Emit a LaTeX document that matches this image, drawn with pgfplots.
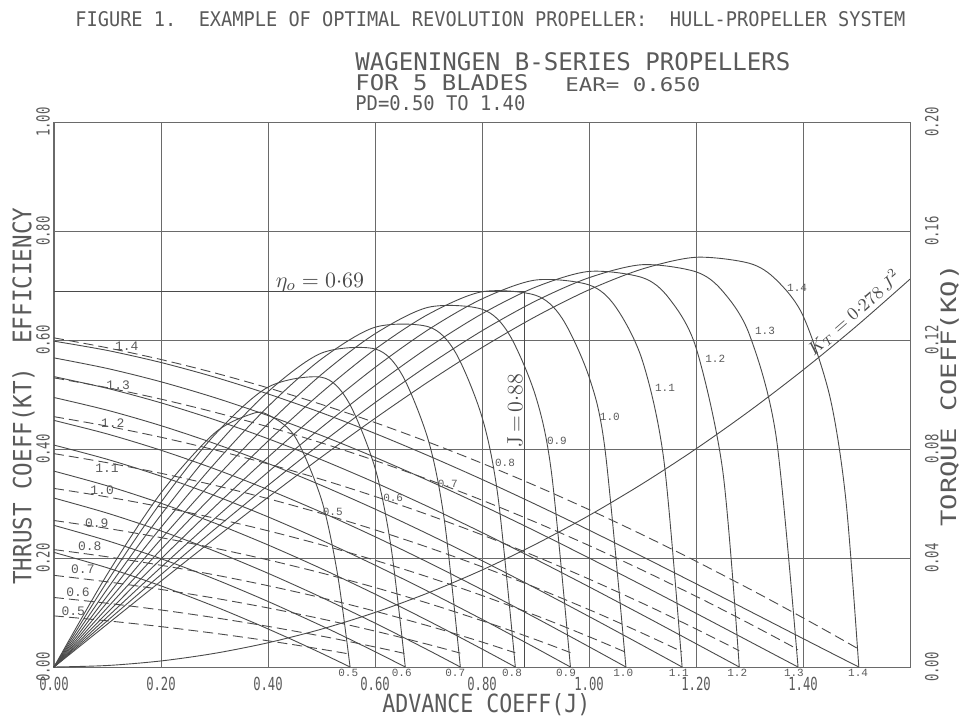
\documentclass[border=0pt]{standalone}
\usepackage{fontspec}
\usepackage{graphicx}
\usepackage{pgfplots}
\usepackage{pgfplotstable}
\pgfplotsset{compat=1.18}
\newfontfamily\ttl[FakeStretch=0.88]{DejaVu Sans Mono}
\newfontfamily\tck[FakeStretch=0.68]{DejaVu Sans Mono}
\newfontfamily\sml{Liberation Mono}
\definecolor{ink}{HTML}{4A4A4A}
\definecolor{gridc}{HTML}{6A6A6A}
\definecolor{txt}{HTML}{5A5A5A}

\pgfplotstableread{
J KT KQ eta
0 0.2103 0.01876 0
0.1 0.1819 0.01694 0.1709
0.2 0.1488 0.01482 0.3195
0.3 0.1113 0.01238 0.4291
0.37 0.0827 0.01049 0.4646
0.4 0.0699 0.00962 0.4628
0.45 0.0480 0.00812 0.4233
0.5 0.0252 0.00652 0.3071
0.53 0.0111 0.00553 0.1700
0.5534 0 0.00474 0
}\pdfive
\pgfplotstableread{
J KT KQ eta
0 0.2599 0.02551 0
0.1 0.2317 0.02339 0.1577
0.2 0.1987 0.02093 0.3023
0.3 0.1615 0.01811 0.4257
0.4 0.1203 0.01492 0.5135
0.5 0.0757 0.01134 0.5316
0.55 0.0523 0.00940 0.4871
0.6 0.0281 0.00735 0.3654
0.63 0.0133 0.00608 0.2200
0.6566 0 0.00492 0
}\pdsix
\pgfplotstableread{
J KT KQ eta
0 0.3100 0.03364 0
0.1 0.2822 0.03125 0.1437
0.2 0.2497 0.02846 0.2792
0.3 0.2128 0.02528 0.4019
0.4 0.1720 0.02168 0.5051
0.5 0.1278 0.01766 0.5760
0.6 0.0806 0.01318 0.5836
0.65 0.0559 0.01077 0.5372
0.7 0.0307 0.00825 0.4151
0.73 0.0153 0.00668 0.2669
0.7595 0 0.00509 0
}\pdseven
\pgfplotstableread{
J KT KQ eta
0 0.3594 0.04309 0
0.1 0.3323 0.04043 0.1308
0.2 0.3004 0.03734 0.2561
0.3 0.2642 0.03382 0.3730
0.4 0.2240 0.02984 0.4779
0.5 0.1804 0.02541 0.5652
0.6 0.1338 0.02049 0.6234
0.7 0.0845 0.01508 0.6242
0.75 0.0590 0.01218 0.5779
0.8 0.0330 0.00916 0.4586
0.83 0.0172 0.00728 0.3117
0.8623 0 0.00521 0
}\pdeight
\pgfplotstableread{
J KT KQ eta
0 0.4072 0.05376 0
0.1 0.3810 0.05085 0.1193
0.2 0.3501 0.04747 0.2347
0.3 0.3147 0.04363 0.3444
0.4 0.2755 0.03931 0.4461
0.5 0.2327 0.03450 0.5368
0.6 0.1869 0.02918 0.6114
0.7 0.1383 0.02335 0.6601
0.8 0.0876 0.01699 0.6565
0.85 0.0615 0.01361 0.6117
0.9 0.0351 0.01009 0.4978
0.93 0.0190 0.00791 0.3557
0.9653 0 0.00529 0
}\pdnine
\pgfplotstableread{
J KT KQ eta
0 0.4525 0.06554 0
0.1 0.4275 0.06239 0.1091
0.2 0.3977 0.05876 0.2155
0.3 0.3636 0.05463 0.3178
0.4 0.3255 0.04999 0.4145
0.5 0.2839 0.04484 0.5037
0.6 0.2391 0.03917 0.5829
0.7 0.1916 0.03297 0.6474
0.8 0.1419 0.02624 0.6885
0.9 0.0903 0.01896 0.6821
0.95 0.0639 0.01511 0.6394
1.0 0.0372 0.01112 0.5325
1.03 0.0211 0.00866 0.3988
1.069 0 0.00539 0
}\pdten
\pgfplotstableread{
J KT KQ eta
0 0.4945 0.07829 0
0.1 0.4711 0.07495 0.1000
0.2 0.4428 0.07108 0.1983
0.3 0.4101 0.06669 0.2936
0.4 0.3735 0.06178 0.3849
0.5 0.3332 0.05633 0.4708
0.6 0.2898 0.05035 0.5496
0.7 0.2436 0.04384 0.6192
0.8 0.1951 0.03678 0.6754
0.9 0.1447 0.02919 0.7100
1.0 0.0927 0.02106 0.7011
1.05 0.0663 0.01678 0.6605
1.1 0.0397 0.01237 0.5617
1.14 0.0183 0.00875 0.3790
1.174 0 0.00560 0
}\pdeleven
\pgfplotstableread{
J KT KQ eta
0 0.5328 0.09187 0
0.1 0.5112 0.08837 0.0921
0.2 0.4847 0.08431 0.1830
0.3 0.4538 0.07970 0.2719
0.4 0.4189 0.07454 0.3577
0.5 0.3803 0.06884 0.4396
0.6 0.3385 0.06260 0.5164
0.7 0.2939 0.05581 0.5866
0.8 0.2468 0.04850 0.6481
0.9 0.1978 0.04065 0.6970
1.0 0.1472 0.03228 0.7258
1.1 0.0954 0.02338 0.7144
1.15 0.0692 0.01873 0.6760
1.2 0.0428 0.01396 0.5860
1.25 0.0164 0.00906 0.3599
1.2809 0 0.00595 0
}\pdtwelve
\pgfplotstableread{
J KT KQ eta
0 0.5672 0.10611 0
0.1 0.5477 0.10250 0.0851
0.2 0.5233 0.09830 0.1695
0.3 0.4944 0.09351 0.2525
0.4 0.4614 0.08815 0.3332
0.5 0.4248 0.08224 0.4110
0.6 0.3848 0.07577 0.4850
0.7 0.3419 0.06876 0.5540
0.8 0.2966 0.06122 0.6169
0.9 0.2492 0.05316 0.6714
1.0 0.2001 0.04459 0.7143
1.1 0.1498 0.03552 0.7382
1.2 0.0986 0.02596 0.7251
1.25 0.0728 0.02100 0.6894
1.3 0.0469 0.01592 0.6096
1.35 0.0210 0.01072 0.4213
1.3907 0 0.00641 0
}\pdthirteen
\pgfplotstableread{
J KT KQ eta
0 0.5979 0.12079 0
0.1 0.5808 0.11713 0.0789
0.2 0.5587 0.11285 0.1576
0.3 0.5320 0.10795 0.2353
0.4 0.5011 0.10244 0.3114
0.5 0.4665 0.09636 0.3853
0.6 0.4286 0.08971 0.4562
0.7 0.3876 0.08251 0.5235
0.8 0.3442 0.07477 0.5861
0.9 0.2985 0.06652 0.6429
1.0 0.2512 0.05776 0.6921
1.1 0.2024 0.04852 0.7304
1.2 0.1528 0.03881 0.7518
1.3 0.1026 0.02865 0.7407
1.35 0.0774 0.02341 0.7104
1.4 0.0522 0.01805 0.6446
1.45 0.0271 0.01259 0.4970
1.48 0.0121 0.00927 0.3078
1.5043 0 0.00655 0
}\pdfourteen

\begin{document}
\begin{tikzpicture}
\path[use as bounding box] (-27pt,-26pt) rectangle (454.5pt,333.5pt);
\tikzset{
  effl/.style={font=\sml\fontsize{5.5}{5.5}\selectfont, text=txt, inner sep=0.5pt},
  kql/.style={font=\sml\fontsize{6.5}{6.5}\selectfont, text=txt, inner sep=0.5pt},
  botl/.style={font=\sml\fontsize{5.5}{5.5}\selectfont, text=txt, anchor=north, inner sep=1pt},
}
\pgfplotsset{
  curve/.style={ink, line width=0.45pt, smooth, no marks},
  kqcurve/.style={ink, line width=0.45pt, smooth, no marks, dash pattern=on 5pt off 2.5pt},
  straight/.style={ink, line width=0.45pt, sharp plot, no marks},
}
% titles
\node[anchor=base west, inner sep=0, text=txt] at (10.5pt,320pt) {\resizebox{415pt}{7.5pt}{\ttl FIGURE 1.~~EXAMPLE OF OPTIMAL REVOLUTION PROPELLER:~~HULL-PROPELLER SYSTEM}};
\node[anchor=base west, inner sep=0, text=txt] at (150.5pt,298pt) {\resizebox{217.5pt}{9pt}{\ttl WAGENINGEN B-SERIES PROPELLERS}};
\node[anchor=base west, inner sep=0, text=txt] at (150.5pt,288pt) {\resizebox{86.5pt}{8pt}{\ttl FOR 5 BLADES}};
\node[anchor=base west, inner sep=0, text=txt] at (255.5pt,287.5pt) {\resizebox{67.5pt}{7pt}{\ttl EAR= 0.650}};
\node[anchor=base west, inner sep=0, text=txt] at (150.5pt,278pt) {\resizebox{85pt}{7.5pt}{\ttl PD=0.50 TO 1.40}};
% axis labels
\node[rotate=90, anchor=base west, inner sep=0, text=txt] at (-11.25pt,41pt) {\resizebox{108.5pt}{9.5pt}{\ttl THRUST COEFF(KT)}};
\node[rotate=90, anchor=base west, inner sep=0, text=txt] at (-11.25pt,161.5pt) {\resizebox{68pt}{9.5pt}{\ttl EFFICIENCY}};
\node[rotate=90, anchor=base west, inner sep=0, text=txt] at (451pt,70pt) {\resizebox{131pt}{8pt}{\ttl TORQUE COEFF(KQ)}};
\node[anchor=base west, inner sep=0, text=txt] at (164pt,-22.5pt) {\resizebox{104pt}{9.5pt}{\ttl ADVANCE COEFF(J)}};

\begin{axis}[
  at={(0pt,0pt)}, anchor=south west,
  scale only axis, width=428pt, height=272.5pt,
  xmin=0, xmax=1.6, ymin=0, ymax=1,
  xtick={0,0.2,0.4,0.6,0.8,1.0,1.2,1.4},
  xticklabels={0.00,0.20,0.40,0.60,0.80,1.00,1.20,1.40},
  ytick={0,0.2,0.4,0.6,0.8,1.0},
  yticklabels={0.00,0.20,0.40,0.60,0.80,1.00},
  xtick pos=left, ytick pos=left,
  major tick length=0pt,
  grid=major,
  major grid style={gridc, line width=0.45pt},
  axis line style={gridc, line width=0.5pt},
  ticklabel style={text=txt, font=\tck\fontsize{9}{9}\selectfont},
  xticklabel style={anchor=north, inner sep=1pt},
  xticklabel shift=3.8pt,
  yticklabel style={rotate=90, anchor=south, inner sep=1pt},
  yticklabel shift=0.8pt,
  clip=false,
]
\addplot[curve] table[x=J,y=KT]{\pdfive};
\addplot[curve] table[x=J,y=KT]{\pdsix};
\addplot[curve] table[x=J,y=KT]{\pdseven};
\addplot[curve] table[x=J,y=KT]{\pdeight};
\addplot[curve] table[x=J,y=KT]{\pdnine};
\addplot[curve] table[x=J,y=KT]{\pdten};
\addplot[curve] table[x=J,y=KT]{\pdeleven};
\addplot[curve] table[x=J,y=KT]{\pdtwelve};
\addplot[curve] table[x=J,y=KT]{\pdthirteen};
\addplot[curve] table[x=J,y=KT]{\pdfourteen};
\addplot[curve] table[x=J,y=eta]{\pdfive};
\addplot[curve] table[x=J,y=eta]{\pdsix};
\addplot[curve] table[x=J,y=eta]{\pdseven};
\addplot[curve] table[x=J,y=eta]{\pdeight};
\addplot[curve] table[x=J,y=eta]{\pdnine};
\addplot[curve] table[x=J,y=eta]{\pdten};
\addplot[curve] table[x=J,y=eta]{\pdeleven};
\addplot[curve] table[x=J,y=eta]{\pdtwelve};
\addplot[curve] table[x=J,y=eta]{\pdthirteen};
\addplot[curve] table[x=J,y=eta]{\pdfourteen};
% KT = 0.278 J^2
\addplot[curve] coordinates {(0,0) (0.1,0.00278) (0.2,0.01112) (0.3,0.02502) (0.4,0.04448) (0.5,0.0695) (0.6,0.10008) (0.7,0.13622) (0.8,0.17792) (0.9,0.22518) (1.0,0.278) (1.1,0.33638) (1.2,0.40032) (1.3,0.46982) (1.4,0.54488) (1.5,0.6255) (1.6,0.71168)};
% optimum markers
\addplot[straight] coordinates {(0,0.69) (0.88,0.69)};
\addplot[straight] coordinates {(0.88,0) (0.88,0.69)};
% efficiency curve labels
\node[effl] at (axis cs:0.521,0.285) {0.5};
\node[effl] at (axis cs:0.634,0.311) {0.6};
\node[effl] at (axis cs:0.736,0.336) {0.7};
\node[effl] at (axis cs:0.843,0.375) {0.8};
\node[effl] at (axis cs:0.940,0.414) {0.9};
\node[effl] at (axis cs:1.039,0.459) {1.0};
\node[effl] at (axis cs:1.142,0.513) {1.1};
\node[effl] at (axis cs:1.236,0.566) {1.2};
\node[effl] at (axis cs:1.329,0.617) {1.3};
\node[effl] at (axis cs:1.389,0.695) {1.4};
% KQ labels
\node[kql] at (axis cs:0.136,0.588) {1.4};
\node[kql] at (axis cs:0.120,0.517) {1.3};
\node[kql] at (axis cs:0.110,0.447) {1.2};
\node[kql] at (axis cs:0.099,0.364) {1.1};
\node[kql] at (axis cs:0.090,0.324) {1.0};
\node[kql] at (axis cs:0.080,0.263) {0.9};
\node[kql] at (axis cs:0.067,0.222) {0.8};
\node[kql] at (axis cs:0.054,0.180) {0.7};
\node[kql] at (axis cs:0.045,0.138) {0.6};
\node[kql] at (axis cs:0.036,0.103) {0.5};
% KT end labels
\node[botl] at (axis cs:0.550,0) {0.5};
\node[botl] at (axis cs:0.650,0) {0.6};
\node[botl] at (axis cs:0.750,0) {0.7};
\node[botl] at (axis cs:0.856,0) {0.8};
\node[botl] at (axis cs:0.957,0) {0.9};
\node[botl] at (axis cs:1.064,0) {1.0};
\node[botl] at (axis cs:1.168,0) {1.1};
\node[botl] at (axis cs:1.277,0) {1.2};
\node[botl] at (axis cs:1.383,0) {1.3};
\node[botl] at (axis cs:1.503,0) {1.4};
% hand annotations
\node[text=ink, font=\fontsize{11}{11}\selectfont] at (axis cs:0.497,0.706) {$\eta_o = 0{\cdot}69$};
\node[text=ink, rotate=90, font=\fontsize{11}{11}\selectfont] at (axis cs:0.862,0.47) {J\,=\,0$\cdot$88};
\node[text=ink, rotate=41, anchor=south, inner sep=1.5pt, font=\fontsize{9}{9}\selectfont] at (axis cs:1.51,0.6339) {$K_T = 0{\cdot}278\,J^2$};
\end{axis}

\begin{axis}[
  at={(0pt,0pt)}, anchor=south west,
  scale only axis, width=428pt, height=272.5pt,
  xmin=0, xmax=1.6, ymin=0, ymax=0.2,
  axis x line=none, axis y line*=right,
  ytick={0,0.04,0.08,0.12,0.16,0.2},
  yticklabels={0.00,0.04,0.08,0.12,0.16,0.20},
  major tick length=0pt,
  axis line style={gridc, line width=0.5pt},
  yticklabel style={text=txt, font=\tck\fontsize{9}{9}\selectfont, rotate=90, anchor=north, inner sep=1pt},
  yticklabel shift=6.3pt,
]
\addplot[kqcurve] table[x=J,y=KQ]{\pdfive};
\addplot[kqcurve] table[x=J,y=KQ]{\pdsix};
\addplot[kqcurve] table[x=J,y=KQ]{\pdseven};
\addplot[kqcurve] table[x=J,y=KQ]{\pdeight};
\addplot[kqcurve] table[x=J,y=KQ]{\pdnine};
\addplot[kqcurve] table[x=J,y=KQ]{\pdten};
\addplot[kqcurve] table[x=J,y=KQ]{\pdeleven};
\addplot[kqcurve] table[x=J,y=KQ]{\pdtwelve};
\addplot[kqcurve] table[x=J,y=KQ]{\pdthirteen};
\addplot[kqcurve] table[x=J,y=KQ]{\pdfourteen};
\end{axis}
\end{tikzpicture}
\end{document}
